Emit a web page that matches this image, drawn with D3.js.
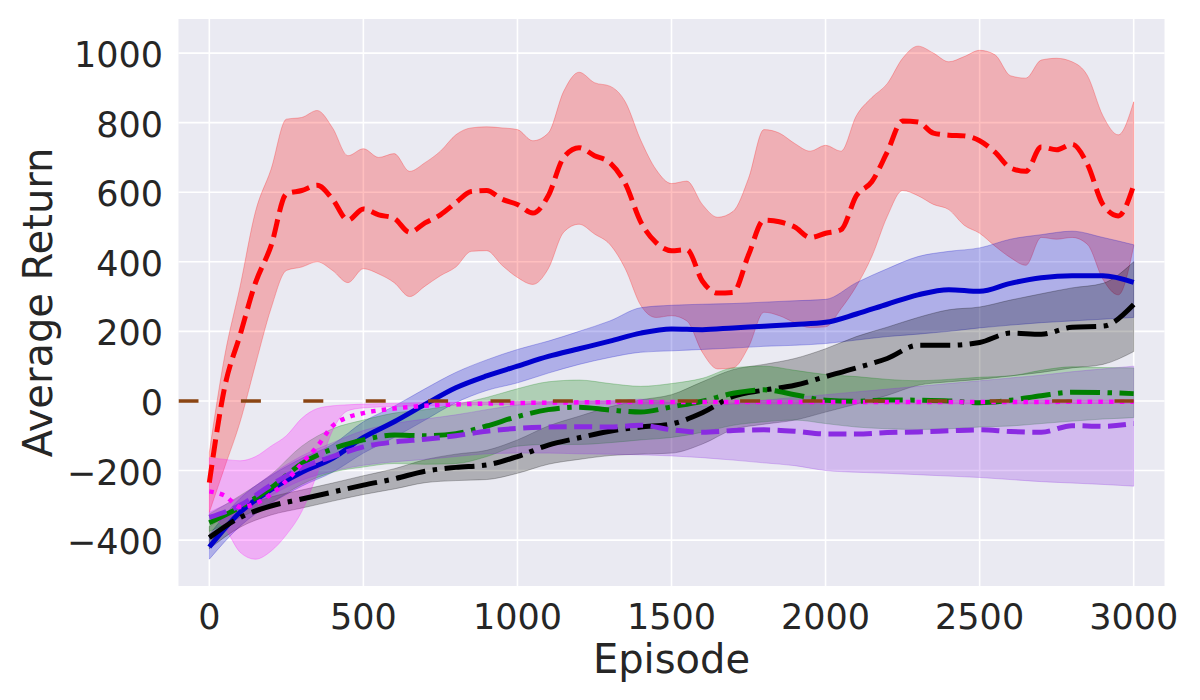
<!DOCTYPE html>
<html>
<head>
<meta charset="utf-8">
<script src="https://cdn.jsdelivr.net/npm/d3@7/dist/d3.min.js"></script>
<style>
  html, body { margin: 0; padding: 0; background: #fff; }
  svg { display: block; font-family: "DejaVu Sans", sans-serif; }
</style>
</head>
<body>
<svg id="chart" width="1200" height="700"></svg>
<script>
// episode grids
const epFine = [0, 50, 100, 150, 200, 250, 300, 350, 400, 450, 500, 550, 600, 650, 700, 750, 800, 850, 900, 950,
  1000, 1050, 1100, 1150, 1200, 1250, 1300, 1350, 1400, 1450, 1500, 1550, 1600, 1650, 1700, 1750, 1800, 1850, 1900, 1950,
  2000, 2050, 2100, 2150, 2200, 2250, 2300, 2350, 2400, 2450, 2500, 2550, 2600, 2650, 2700, 2750, 2800, 2850, 2900, 2950, 3000];
const epCoarse = [0, 100, 200, 300, 400, 500, 600, 700, 800, 900, 1000, 1100, 1200, 1300, 1400, 1500,
  1600, 1700, 1800, 1900, 2000, 2100, 2200, 2300, 2400, 2500, 2600, 2700, 2800, 2900, 3000];
const epMagenta = [0, 50, 100, 150, 200, 250, 300, 350, 400, 450, 500, 600, 700, 800, 1000, 1500, 2000, 2500, 3000];

// red dashed
const redMean = [-235, 40, 190, 340, 445, 595, 605, 620, 580, 520, 552, 535, 525, 485, 512, 535, 570, 602, 605, 580,
  565, 540, 590, 700, 728, 705, 685, 625, 515, 455, 432, 435, 345, 310, 312, 420, 520, 515, 500, 470,
  482, 492, 590, 630, 715, 805, 802, 770, 764, 762, 748, 715, 670, 660, 730, 722, 738, 680, 565, 532, 620];
const redLower = [-320, -190, -60, 105, 265, 375, 385, 400, 375, 340, 380, 365, 340, 300, 330, 360, 385, 430, 432, 390,
  355, 335, 380, 485, 508, 480, 450, 380, 275, 240, 245, 230, 140, 92, 95, 155, 255, 245, 225, 211,
  213, 265, 330, 415, 530, 605, 590, 565, 550, 505, 482, 445, 412, 390, 470, 465, 470, 450, 350, 305, 445];
const redUpper = [-148, 130, 330, 545, 665, 810, 815, 835, 785, 705, 725, 700, 711, 660, 685, 718, 765, 785, 788, 785,
  780, 748, 770, 890, 945, 915, 905, 860, 750, 665, 625, 632, 565, 528, 545, 640, 780, 770, 740, 718,
  735, 718, 820, 872, 912, 985, 1020, 1000, 975, 990, 1008, 995, 935, 928, 980, 985, 975, 935, 820, 765, 860];

// blue solid
const blueMean = [-420, -320, -255, -205, -165, -105, -60, -10, 38, 72, 100, 128, 150, 172, 195, 207,
  205, 210, 215, 220, 226, 250, 278, 305, 320, 315, 338, 354, 360, 360, 341];
const blueLower = [-455, -360, -295, -245, -205, -150, -105, -55, -5, 30, 52, 80, 105, 125, 140, 144,
  148, 152, 157, 160, 165, 175, 185, 192, 200, 210, 218, 225, 230, 235, 240];
const blueUpper = [-385, -280, -215, -165, -125, -60, -15, 35, 82, 118, 148, 172, 200, 230, 268, 275,
  278, 280, 284, 288, 292, 340, 380, 415, 430, 440, 465, 478, 488, 470, 449];

// black dash-dot
const blackMean = [-393, -335, -302, -282, -262, -242, -224, -202, -191, -184, -160, -127, -106, -87, -75, -66,
  -34, 13, 31, 45, 70, 95, 122, 160, 160, 168, 195, 192, 212, 215, 277];
const blackLower = [-425, -363, -328, -308, -288, -269, -253, -235, -229, -226, -208, -182, -168, -157, -153, -150,
  -124, -82, -67, -55, -32, -9, 16, 45, 55, 62, 72, 82, 95, 105, 142];
const blackUpper = [-361, -307, -276, -256, -236, -215, -195, -169, -153, -142, -112, -72, -44, -17, 3, 18,
  55, 90, 105, 122, 150, 185, 212, 240, 262, 270, 290, 308, 325, 338, 400];

// green dash-dot
const greenMean = [-350, -305, -250, -180, -138, -112, -98, -100, -94, -72, -45, -25, -18, -26, -32, -17,
  -1, 22, 32, 18, 2, -1, 3, 2, 0, -5, 2, 15, 25, 24, 21];
const greenLower = [-375, -335, -292, -240, -205, -190, -180, -182, -180, -160, -130, -125, -125, -120, -112, -105,
  -90, -70, -60, -55, -65, -75, -80, -82, -80, -75, -72, -65, -58, -52, -48];
const greenUpper = [-325, -272, -212, -130, -80, -55, -35, -25, -10, 10, 35, 55, 60, 50, 42, 50,
  65, 95, 100, 88, 76, 70, 62, 58, 62, 68, 72, 88, 98, 96, 95];

// purple dashed
const purpleMean = [-335, -300, -242, -192, -160, -132, -118, -110, -100, -87, -79, -75, -74, -75, -70, -83,
  -90, -85, -83, -87, -95, -95, -91, -89, -86, -83, -88, -90, -71, -73, -65];
const purpleLower = [-350, -325, -272, -228, -202, -185, -175, -168, -160, -152, -150, -150, -152, -153, -155, -158,
  -163, -170, -178, -186, -200, -205, -208, -212, -216, -220, -226, -232, -236, -240, -245];
const purpleUpper = [-320, -275, -212, -158, -120, -85, -65, -52, -40, -25, -12, -3, 0, 0, 5, -5,
  -15, -8, 2, 10, 18, 26, 34, 42, 50, 58, 66, 74, 84, 92, 100];

// magenta dotted
const magentaMean = [-260, -272, -305, -295, -268, -230, -180, -131, -72, -47, -35, -22, -14, -10, -6, -3, -3, -3, -2];
const magentaLower = [-330, -365, -435, -455, -432, -385, -318, -210, -85, -28, -20, -16, -14, -12, -10, -8, -8, -8, -7];
const magentaUpper = [-163, -168, -172, -160, -130, -100, -50, -22, -14, -11, -9, -7, -5, -4, -2, 1, 1, 1, 2];

// horizontal reference
const refLevel = 0;
const refStart = -100;
const refEnd = 3000;

const xTicks = [0, 500, 1000, 1500, 2000, 2500, 3000];
const yTicks = [-400, -200, 0, 200, 400, 600, 800, 1000];

const series = [
  {name: 'red', ep: epFine, mean: redMean, lo: redLower, hi: redUpper, color: '#ff0000', dash: '18,7.5', lw: 5},
  {name: 'blue', ep: epCoarse, mean: blueMean, lo: blueLower, hi: blueUpper, color: '#0000cd', dash: null, lw: 5},
  {name: 'black', ep: epCoarse, mean: blackMean, lo: blackLower, hi: blackUpper, color: '#000000', dash: '30,7.5,4.5,7.5', lw: 5},
  {name: 'green', ep: epCoarse, mean: greenMean, lo: greenLower, hi: greenUpper, color: '#008000', dash: '30,7.5,4.5,7.5', lw: 5},
  {name: 'purple', ep: epCoarse, mean: purpleMean, lo: purpleLower, hi: purpleUpper, color: '#8a2be2', dash: '18,7.5', lw: 5},
  {name: 'magenta', ep: epMagenta, mean: magentaMean, lo: magentaLower, hi: magentaUpper, color: '#ff00ff', dash: '4.5,6.2', lw: 4.5}
];

const plotLeft = 178.5, plotRight = 1164.5, plotTop = 19, plotBottom = 586;

const svg = d3.select('#chart');

const x = d3.scaleLinear().domain([-100, 3100]).range([plotLeft, plotRight]);
const y = d3.scaleLinear().domain([-532, 1098]).range([plotBottom, plotTop]);

svg.append('defs').append('clipPath').attr('id', 'plot-clip')
  .append('rect')
  .attr('x', plotLeft).attr('y', plotTop)
  .attr('width', plotRight - plotLeft).attr('height', plotBottom - plotTop);

// background + grid
svg.append('rect')
  .attr('x', plotLeft).attr('y', plotTop)
  .attr('width', plotRight - plotLeft).attr('height', plotBottom - plotTop)
  .attr('fill', '#eaeaf2');

const grid = svg.append('g').attr('stroke', '#ffffff').attr('stroke-width', 1.6);
grid.selectAll('line.vx')
  .data(xTicks)
  .enter().append('line')
  .attr('x1', d => x(d)).attr('x2', d => x(d))
  .attr('y1', plotTop).attr('y2', plotBottom);
grid.selectAll('line.hy')
  .data(yTicks)
  .enter().append('line')
  .attr('x1', plotLeft).attr('x2', plotRight)
  .attr('y1', d => y(d)).attr('y2', d => y(d));

const plot = svg.append('g').attr('clip-path', 'url(#plot-clip)');

function rows (s) {
  return s.ep.map((e, i) => ({ep: e, mean: s.mean[i], lo: s.lo[i], hi: s.hi[i]}));
}

const area = d3.area()
  .curve(d3.curveMonotoneX)
  .x(d => x(d.ep))
  .y0(d => y(d.lo))
  .y1(d => y(d.hi));

const line = d3.line()
  .curve(d3.curveMonotoneX)
  .x(d => x(d.ep))
  .y(d => y(d.mean));

// bands first
plot.append('g')
  .selectAll('path')
  .data(series)
  .enter().append('path')
  .attr('d', d => area(rows(d)))
  .attr('fill', d => d.color)
  .attr('fill-opacity', 0.25)
  .attr('stroke', d => d.color)
  .attr('stroke-opacity', 0.25)
  .attr('stroke-width', 1);

// mean lines
plot.append('g')
  .selectAll('path')
  .data(series)
  .enter().append('path')
  .attr('d', d => line(rows(d)))
  .attr('fill', 'none')
  .attr('stroke', d => d.color)
  .attr('stroke-width', d => d.lw)
  .attr('stroke-dasharray', d => d.dash);

// reference line at 0
plot.append('line')
  .attr('x1', x(refStart)).attr('x2', x(refEnd))
  .attr('y1', y(refLevel)).attr('y2', y(refLevel))
  .attr('stroke', '#8b4513')
  .attr('stroke-width', 3.6)
  .attr('stroke-dasharray', '20,42.4');

// tick labels
const fmt = d3.format('d');
svg.append('g')
  .selectAll('text')
  .data(xTicks)
  .enter().append('text')
  .attr('x', d => x(d))
  .attr('y', 629)
  .attr('text-anchor', 'middle')
  .attr('fill', '#262626')
  .style('font-size', '35px')
  .text(d => fmt(d));

svg.append('g')
  .selectAll('text')
  .data(yTicks)
  .enter().append('text')
  .attr('x', 163)
  .attr('y', d => y(d) + 14)
  .attr('text-anchor', 'end')
  .attr('fill', '#262626')
  .style('font-size', '35px')
  .text(d => fmt(d));

// axis titles
svg.append('text')
  .attr('x', (plotLeft + plotRight) / 2)
  .attr('y', 673)
  .attr('text-anchor', 'middle')
  .attr('fill', '#262626')
  .style('font-size', '40px')
  .text('Episode');

svg.append('text')
  .attr('transform', 'translate(52,' + ((plotTop + plotBottom) / 2) + ') rotate(-90)')
  .attr('text-anchor', 'middle')
  .attr('fill', '#262626')
  .style('font-size', '40px')
  .text('Average Return');
</script>
</body>
</html>
